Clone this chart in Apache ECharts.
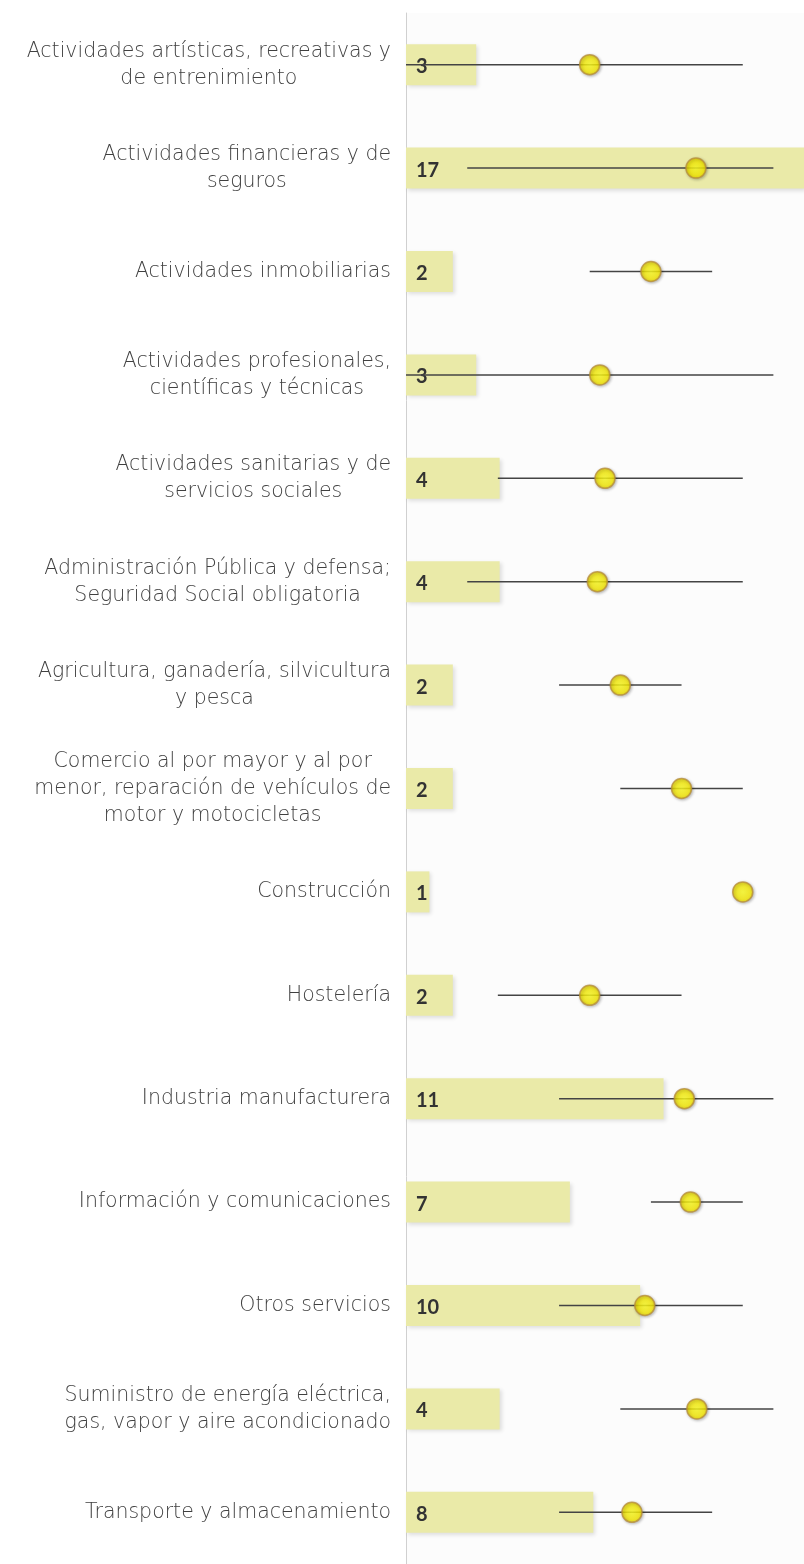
<!DOCTYPE html>
<html>
<head>
<meta charset="utf-8">
<script src="https://cdn.jsdelivr.net/npm/echarts@6/dist/echarts.min.js"></script>
<style>
  html, body { margin: 0; padding: 0; background: #fff; }
  #chart { width: 804px; height: 1564px; }
</style>
</head>
<body>
<div id="chart"></div>
<script>
// sectores (los saltos de línea son los del original)
const categories = [
  'Actividades artísticas, recreativas y\nde entrenimiento',
  'Actividades financieras y de\nseguros',
  'Actividades inmobiliarias',
  'Actividades profesionales,\ncientíficas y técnicas',
  'Actividades sanitarias y de\nservicios sociales',
  'Administración Pública y defensa;\nSeguridad Social obligatoria',
  'Agricultura, ganadería, silvicultura\ny pesca',
  'Comercio al por mayor y al por\nmenor, reparación de vehículos de\nmotor y motocicletas',
  'Construcción',
  'Hostelería',
  'Industria manufacturera',
  'Información y comunicaciones',
  'Otros servicios',
  'Suministro de energía eléctrica,\ngas, vapor y aire acondicionado',
  'Transporte y almacenamiento'
]
// número de respuestas por sector (barras)
const counts = [3, 17, 2, 3, 4, 4, 2, 2, 1, 2, 11, 7, 10, 4, 8]
// mínimo, máximo y media de cada sector (líneas y puntos)
const minVals = [0, 2, 6, 0, 3, 2, 5, 7, 11, 3, 5, 8, 5, 7, 5]
const maxVals = [11, 12, 10, 12, 11, 11, 9, 11, 11, 9, 12, 11, 11, 12, 10]
const means = [6.0, 9.47, 8.0, 6.33, 6.5, 6.25, 7.0, 9.0, 11.0, 6.0, 9.09, 9.29, 7.8, 9.5, 7.38]

const chart = echarts.init(document.getElementById('chart'))

// cada línea centrada dentro del bloque de la etiqueta
function wrapLabel (value) {
  return value.split('\n').map(function (l) { return '{c|' + l + '}' }).join('\n')
}

const rangeData = categories.map(function (c, i) { return [i, minVals[i], maxVals[i]] })
const meanData = categories.map(function (c, i) { return [means[i], i] })

const option = {
  animation: false,
  grid: {
    left: 406,
    top: 13,
    width: 398,
    height: 1558,
    show: true,
    backgroundColor: '#fcfcfc',
    borderWidth: 0
  },
  xAxis: [
    { type: 'value', min: 0, max: 17, show: false },
    { type: 'value', min: 0, max: 13, show: false }
  ],
  yAxis: {
    type: 'category',
    data: categories,
    inverse: true,
    axisLine: { show: true, lineStyle: { color: '#d0d0d0', width: 1 } },
    axisTick: { show: false },
    splitLine: { show: false },
    axisLabel: {
      margin: 15,
      formatter: wrapLabel,
      rich: {
        c: {
          align: 'center',
          fontFamily: 'DejaVu Sans',
          fontWeight: 200,
          fontSize: 20.5,
          lineHeight: 27,
          color: '#404040'
        }
      }
    }
  },
  series: [
    {
      type: 'bar',
      xAxisIndex: 0,
      data: counts,
      barWidth: 41,
      z: 1,
      itemStyle: {
        color: '#eaeaa8',
        shadowBlur: 4,
        shadowColor: 'rgba(0,0,0,0.12)',
        shadowOffsetX: 2,
        shadowOffsetY: 2
      },
      label: {
        show: true,
        position: 'insideLeft',
        distance: 10,
        offset: [0, 2],
        color: '#333',
        fontFamily: 'Lato',
        fontWeight: 'bold',
        fontSize: 20
      }
    },
    {
      type: 'custom',
      xAxisIndex: 1,
      z: 3,
      data: rangeData,
      encode: { x: [1, 2], y: 0 },
      renderItem: function (params, api) {
        const cat = api.value(0)
        const p1 = api.coord([api.value(1), cat])
        const p2 = api.coord([api.value(2), cat])
        return {
          type: 'line',
          shape: { x1: p1[0], y1: p1[1], x2: p2[0], y2: p2[1] },
          style: { stroke: '#444', lineWidth: 1.5 }
        }
      }
    },
    {
      type: 'scatter',
      xAxisIndex: 1,
      z: 4,
      data: meanData,
      symbol: 'circle',
      symbolSize: 20,
      itemStyle: {
        color: new echarts.graphic.RadialGradient(0.5, 0.5, 0.5, [
          { offset: 0, color: '#ffff20' },
          { offset: 0.8, color: '#f8ea00' },
          { offset: 1, color: '#e8c800' }
        ]),
        borderColor: '#b8903a',
        borderWidth: 1.5,
        shadowBlur: 3,
        shadowColor: 'rgba(0,0,0,0.3)',
        shadowOffsetX: 1,
        shadowOffsetY: 1
      }
    }
  ]
}

chart.setOption(option)
</script>
</body>
</html>
